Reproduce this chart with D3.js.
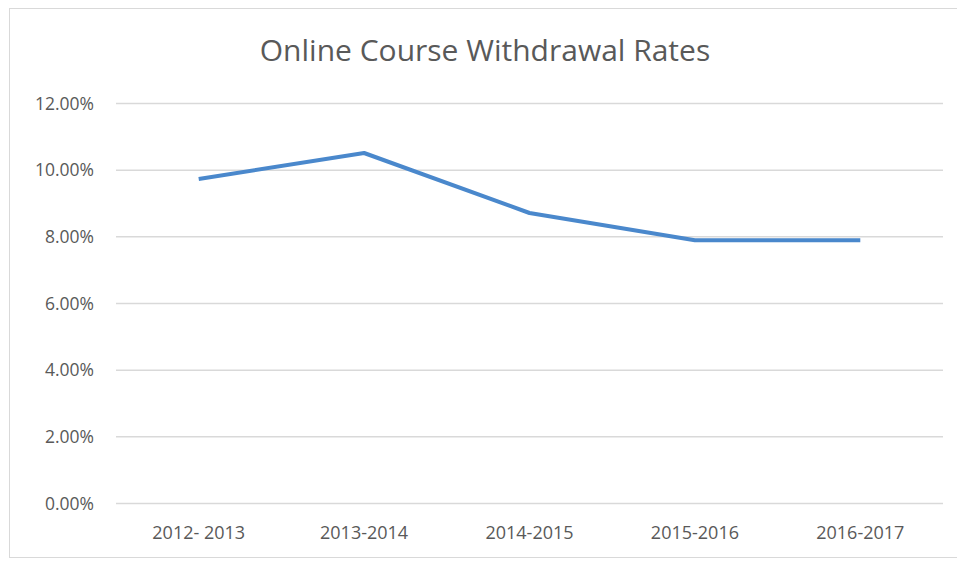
<!DOCTYPE html>
<html><head><meta charset="utf-8">
<script src="https://cdn.jsdelivr.net/npm/d3@7"></script>
<style>body{margin:0;background:#fff;}svg{display:block;}</style>
</head><body>
<svg id="chart" width="957" height="561"></svg>
<script>
const title = "Online Course Withdrawal Rates";
const categories = ["2012- 2013", "2013-2014", "2014-2015", "2015-2016", "2016-2017"];
const withdrawalRates = [9.72, 10.5, 8.7, 7.88, 7.88];
const yTicks = [0, 2, 4, 6, 8, 10, 12];

const svg = d3.select("#chart");
const W = 957, H = 561;
const font = "'Open Sans', sans-serif";
const margin = {left: 116, right: 14, top: 103, bottom: 58};

svg.append("rect").attr("x", 9.5).attr("y", 8.5).attr("width", W + 10).attr("height", 549)
  .attr("fill", "#fff").attr("stroke", "#d9d9d9");

const x = d3.scaleBand().domain(categories).range([margin.left, W - margin.right]);
const y = d3.scaleLinear().domain([0, 12]).range([H - margin.bottom, margin.top]);

const yAxis = svg.append("g").attr("transform", `translate(${margin.left},0)`)
  .call(d3.axisLeft(y).tickValues(yTicks).tickSize(-(W - margin.left - margin.right)).tickPadding(22)
    .tickFormat(d => d3.format(".2f")(d) + "%"));
yAxis.select(".domain").remove();
yAxis.selectAll(".tick line").attr("stroke", "#d9d9d9").attr("stroke-width", 1.5);
yAxis.selectAll(".tick text").attr("fill", "#595959").style("font-family", font).style("font-size", "17.5px")
  .attr("transform", "scale(1,1.08)");

const xAxis = svg.append("g").attr("transform", `translate(0,${H - margin.bottom})`)
  .call(d3.axisBottom(x).tickSize(0).tickPadding(23));
xAxis.select(".domain").remove();
xAxis.selectAll(".tick text").attr("fill", "#595959").style("font-family", font).style("font-size", "18px");

const line = d3.line().x((d, i) => x(categories[i]) + x.bandwidth() / 2).y(d => y(d));
svg.append("path").datum(withdrawalRates).attr("d", line)
  .attr("fill", "none").attr("stroke", "#4a88cc").attr("stroke-width", 4).attr("stroke-linejoin", "round");

svg.append("text").attr("x", 485).attr("y", 61).attr("text-anchor", "middle")
  .attr("fill", "#595959").style("font-family", font).style("font-size", "30px").text(title);
</script>
</body></html>
